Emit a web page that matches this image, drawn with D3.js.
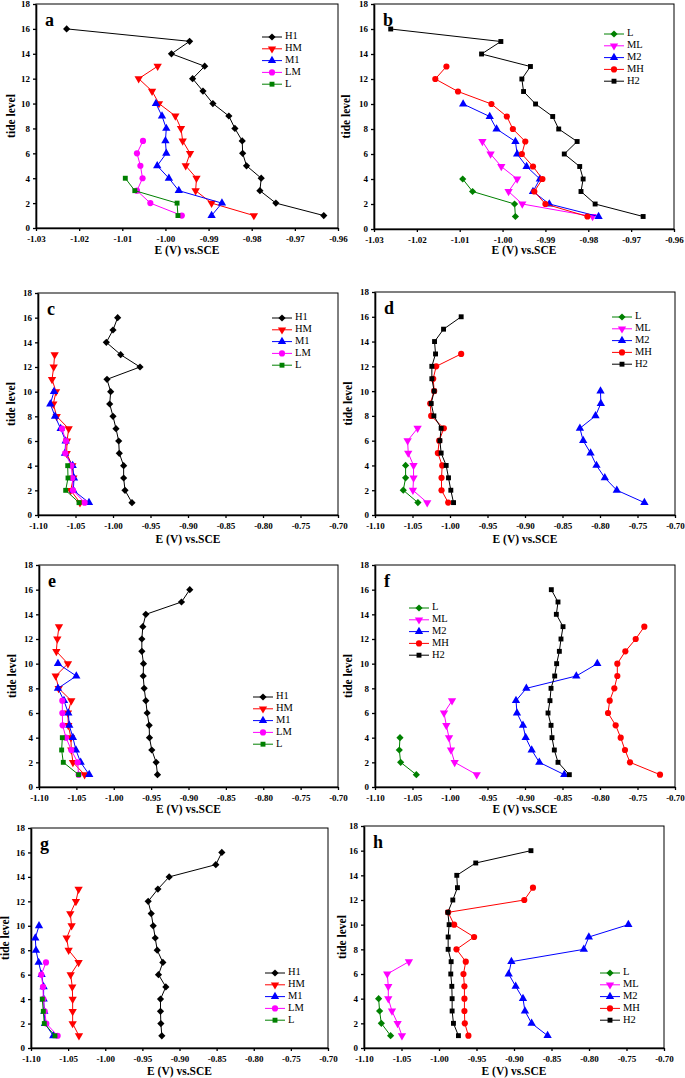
<!DOCTYPE html>
<html><head><meta charset="utf-8">
<script src="https://cdnjs.cloudflare.com/ajax/libs/d3/7.8.5/d3.min.js"></script>
<style>
body{margin:0;background:#fff;}
svg{display:block;font-family:"Liberation Serif","Times New Roman",serif;}
</style></head>
<body>
<svg id="chart" width="685" height="1078"></svg>
<script>
// ---------- DATA (index i -> tide level i+1) ----------
const tideTicks = [0,2,4,6,8,10,12,14,16,18];
const xTicksAB = [-1.03,-1.02,-1.01,-1.00,-0.99,-0.98,-0.97,-0.96];
const xTicksWide = [-1.10,-1.05,-1.00,-0.95,-0.90,-0.85,-0.80,-0.75,-0.70];
const seriesGroup1 = ["H1","HM","M1","LM","L"];
const seriesGroup2 = ["L","ML","M2","MH","H2"];

const a_H1 = [-0.9633,-0.9744,-0.9781,-0.9778,-0.9812,-0.9821,-0.9822,-0.9839,-0.9853,-0.9890,-0.9913,-0.9937,-0.9909,-0.9986,-0.9944,-1.0229];
const a_HM = [-0.9795,-0.9893,-0.9930,-0.9928,-0.9953,-0.9943,-0.9960,-0.9964,-0.9977,-1.0015,-1.0031,-1.0062,-1.0018];
const a_M1 = [-0.9893,-0.9869,-0.9969,-0.9992,-1.0019,-0.9998,-1.0000,-0.9998,-1.0008,-1.0022];
const a_LM = [-0.9962,-1.0035,-1.0066,-1.0053,-1.0058,-1.0066,-1.0052];
const a_L  = [-0.9971,-0.9973,-1.0071,-1.0093];

const b_L  = [-0.9970,-0.9972,-1.0070,-1.0093];
const b_ML = [-0.9790,-0.9954,-0.9986,-0.9966,-1.0003,-1.0028,-1.0047];
const b_M2 = [-0.9776,-0.9891,-0.9929,-0.9913,-0.9944,-0.9966,-0.9970,-1.0014,-1.0030,-1.0092];
const b_MH = [-0.9802,-0.9900,-0.9926,-0.9907,-0.9929,-0.9955,-0.9947,-0.9976,-0.9990,-1.0026,-1.0104,-1.0157,-1.0131];
const b_H2 = [-0.9672,-0.9784,-0.9817,-0.9812,-0.9820,-0.9856,-0.9826,-0.9869,-0.9883,-0.9923,-0.9951,-0.9955,-0.9935,-1.0049,-1.0004,-1.0261];

const c_H1 = [-0.9747,-0.9840,-0.9858,-0.9858,-0.9916,-0.9924,-0.9960,-1.0000,-1.0044,-1.0031,-1.0080,-0.9640,-0.9898,-1.0089,-1.0000,-0.9938];
const c_HM = [-1.0440,-1.0564,-1.0529,-1.0542,-1.0618,-1.0613,-1.0591,-1.0751,-1.0796,-1.0760,-1.0813,-1.0791,-1.0778];
const c_M1 = [-1.0320,-1.0529,-1.0520,-1.0538,-1.0640,-1.0631,-1.0698,-1.0773,-1.0836,-1.0787];
const c_LM = [-1.0378,-1.0533,-1.0542,-1.0556,-1.0636,-1.0627,-1.0680];
const c_L  = [-1.0453,-1.0631,-1.0600,-1.0604];

const d_L  = [-1.0428,-1.0623,-1.0592,-1.0592];
const d_ML = [-1.0304,-1.0494,-1.0486,-1.0486,-1.0557,-1.0565,-1.0432];
const d_M2 = [-0.7408,-0.7776,-0.7936,-0.8047,-0.8126,-0.8224,-0.8268,-0.8060,-0.7989,-0.7993];
const d_MH = [-1.0024,-1.0113,-1.0113,-1.0104,-1.0162,-1.0144,-1.0082,-1.0251,-1.0264,-1.0211,-1.0224,-1.0184,-0.9851];
const d_H2 = [-0.9953,-0.9989,-1.0020,-1.0051,-1.0118,-1.0135,-1.0118,-1.0215,-1.0251,-1.0211,-1.0242,-1.0242,-1.0193,-1.0206,-1.0086,-0.9851];

const e_H1 = [-0.9415,-0.9433,-0.9491,-0.9522,-0.9526,-0.9553,-0.9571,-0.9593,-0.9606,-0.9602,-0.9624,-0.9624,-0.9611,-0.9571,-0.9094,-0.8983];
const e_HM = [-1.0390,-1.0546,-1.0568,-1.0573,-1.0608,-1.0613,-1.0568,-1.0737,-1.0777,-1.0613,-1.0768,-1.0755,-1.0733];
const e_M1 = [-1.0328,-1.0443,-1.0506,-1.0546,-1.0595,-1.0608,-1.0666,-1.0746,-1.0501,-1.0746];
const e_LM = [-1.0470,-1.0483,-1.0568,-1.0639,-1.0684,-1.0688,-1.0688];
const e_L  = [-1.0470,-1.0675,-1.0697,-1.0688];

const f_L  = [-1.0449,-1.0658,-1.0676,-1.0667];
const f_ML = [-0.9644,-0.9938,-0.9987,-1.0013,-1.0049,-1.0080,-0.9973];
const f_M2 = [-0.8476,-0.8809,-0.8911,-0.8991,-0.9027,-0.9107,-0.9120,-0.8982,-0.8316,-0.8036];
const f_MH = [-0.7200,-0.7600,-0.7667,-0.7724,-0.7791,-0.7893,-0.7871,-0.7809,-0.7769,-0.7769,-0.7662,-0.7524,-0.7409];
const f_H2 = [-0.8409,-0.8560,-0.8609,-0.8640,-0.8653,-0.8693,-0.8667,-0.8653,-0.8604,-0.8578,-0.8542,-0.8520,-0.8493,-0.8582,-0.8560,-0.8649];

const g_H1 = [-0.9238,-0.9251,-0.9256,-0.9256,-0.9184,-0.9283,-0.9224,-0.9300,-0.9327,-0.9354,-0.9381,-0.9422,-0.9291,-0.9139,-0.8511,-0.8430];
const g_HM = [-1.0354,-1.0439,-1.0439,-1.0439,-1.0444,-1.0466,-1.0359,-1.0493,-1.0520,-1.0453,-1.0471,-1.0395,-1.0359];
const g_M1 = [-1.0700,-1.0812,-1.0821,-1.0830,-1.0830,-1.0857,-1.0897,-1.0933,-1.0942,-1.0892];
const g_LM = [-1.0641,-1.0794,-1.0816,-1.0834,-1.0839,-1.0861,-1.0798];
const g_L  = [-1.0677,-1.0821,-1.0834,-1.0848];

const h_L  = [-1.0645,-1.0769,-1.0792,-1.0805];
const h_ML = [-1.0494,-1.0552,-1.0627,-1.0676,-1.0676,-1.0690,-1.0401];
const h_M2 = [-0.8552,-0.8765,-0.8854,-0.8880,-0.8978,-0.9071,-0.9035,-0.8069,-0.8002,-0.7475];
const h_MH = [-0.9608,-0.9656,-0.9661,-0.9661,-0.9661,-0.9674,-0.9643,-0.9767,-0.9532,-0.9798,-0.9878,-0.8863,-0.8747];
const h_H2 = [-0.9741,-0.9807,-0.9825,-0.9825,-0.9829,-0.9843,-0.9838,-0.9878,-0.9878,-0.9865,-0.9882,-0.9816,-0.9754,-0.9763,-0.9510,-0.8774];

// ---------- STYLE ----------
const styles = {
  H1:{color:"#000000", sym:"diamond"},
  HM:{color:"#ff0000", sym:"down"},
  M1:{color:"#0000ff", sym:"up"},
  LM:{color:"#ff00ff", sym:"circle"},
  L1:{color:"#008000", sym:"square"},
  L2:{color:"#008000", sym:"diamond"},
  ML:{color:"#ff00ff", sym:"down"},
  M2:{color:"#0000ff", sym:"up"},
  MH:{color:"#ff0000", sym:"circle"},
  H2:{color:"#000000", sym:"square"}
};

const panels = [
  {id:"a", box:[36,338,4,228], ticks:xTicksAB, fmt:2, names:seriesGroup1, data:[a_H1,a_HM,a_M1,a_LM,a_L], grp:1, leg:[262,37], ylab:12, xlabY:251},
  {id:"b", box:[374,674,4,229], ticks:xTicksAB, fmt:2, names:seriesGroup2, data:[b_L,b_ML,b_M2,b_MH,b_H2], grp:2, leg:[604,34], ylab:347, xlabY:251},
  {id:"c", box:[38,338,293,515], ticks:xTicksWide, fmt:2, names:seriesGroup1, data:[c_H1,c_HM,c_M1,c_LM,c_L], grp:1, leg:[272,318], ylab:12, xlabY:540},
  {id:"d", box:[375,675,292,515], ticks:xTicksWide, fmt:2, names:seriesGroup2, data:[d_L,d_ML,d_M2,d_MH,d_H2], grp:2, leg:[612,317], ylab:349, xlabY:540},
  {id:"e", box:[39,338,565,787], ticks:xTicksWide, fmt:2, names:seriesGroup1, data:[e_H1,e_HM,e_M1,e_LM,e_L], grp:1, leg:[253,697], ylab:13, xlabY:810},
  {id:"f", box:[375,675,565,787], ticks:xTicksWide, fmt:2, names:seriesGroup2, data:[f_L,f_ML,f_M2,f_MH,f_H2], grp:2, leg:[409,608], ylab:349, xlabY:810},
  {id:"g", box:[31,328,828,1048], ticks:xTicksWide, fmt:2, names:seriesGroup1, data:[g_H1,g_HM,g_M1,g_LM,g_L], grp:1, leg:[265,973], ylab:6.5, xlabY:1072},
  {id:"h", box:[364,664,826,1048], ticks:xTicksWide, fmt:2, names:seriesGroup2, data:[h_L,h_ML,h_M2,h_MH,h_H2], grp:2, leg:[600,973], ylab:343, xlabY:1072}
];

const svg = d3.select("#chart");

function symbolPath(sym){
  if(sym==="diamond") return "M0,-3.6L3.6,0L0,3.6L-3.6,0Z";
  if(sym==="up") return d3.symbol().type(d3.symbolTriangle).size(30)();
  if(sym==="down") return d3.symbol().type(d3.symbolTriangle).size(30)();
  if(sym==="circle") return d3.symbol().type(d3.symbolCircle).size(30)();
  return d3.symbol().type(d3.symbolSquare).size(24)();
}
function styleKey(name, grp){ return name==="L" ? (grp===1?"L1":"L2") : name; }

panels.forEach(p=>{
  const [x0,x1,y0,y1] = p.box;
  const xs = d3.scaleLinear().domain([p.ticks[0], p.ticks[p.ticks.length-1]]).range([x0,x1]);
  const ys = d3.scaleLinear().domain([0,18]).range([y1,y0]);
  const g = svg.append("g");

  // frame
  g.append("rect").attr("x",x0).attr("y",y0).attr("width",x1-x0).attr("height",y1-y0)
    .attr("fill","none").attr("stroke","#000").attr("stroke-width",1);

  const xAxis = d3.axisBottom(xs).tickValues(p.ticks).tickSize(3).tickSizeOuter(0)
    .tickFormat(d=>d.toFixed(p.fmt));
  const yAxis = d3.axisLeft(ys).tickValues(tideTicks).tickSize(3).tickSizeOuter(0);
  const ax = g.append("g").attr("transform",`translate(0,${y1})`).call(xAxis);
  const ay = g.append("g").attr("transform",`translate(${x0},0)`).call(yAxis);
  [ax,ay].forEach(a=>{
    a.select(".domain").attr("stroke-width",1.6);
    a.selectAll(".tick line").attr("stroke-width",1.3);
    a.selectAll("text").attr("font-family","Liberation Serif").attr("font-weight","bold")
      .attr("font-size",9).attr("fill","#000");
  });
  ax.selectAll("text").attr("dy","0.9em");

  // titles
  g.append("text").attr("x",(x0+x1)/2).attr("y",p.xlabY).attr("text-anchor","middle")
    .attr("dominant-baseline","middle").attr("font-weight","bold").attr("font-size",11.5)
    .text("E (V) vs.SCE");
  g.append("text").attr("transform",`translate(${p.ylab},${(y0+y1)/2}) rotate(-90)`)
    .attr("text-anchor","middle").attr("dominant-baseline","middle")
    .attr("font-weight","bold").attr("font-size",11.5).text("tide level");
  g.append("text").attr("x",x0+9).attr("y",y0+22).attr("font-weight","bold")
    .attr("font-size",18).text(p.id);

  // series
  const line = d3.line().x(d=>xs(d.v)).y(d=>ys(d.lvl));
  p.names.forEach((name,i)=>{
    const st = styles[styleKey(name,p.grp)];
    const pts = p.data[i].map((v,k)=>({v:v,lvl:k+1}));
    g.append("path").datum(pts).attr("d",line).attr("fill","none")
      .attr("stroke",st.color).attr("stroke-width",1);
    g.selectAll(null).data(pts).enter().append("path")
      .attr("d",symbolPath(st.sym))
      .attr("transform",d=>`translate(${xs(d.v)},${ys(d.lvl)})${st.sym==="down"?" rotate(180)":""}`)
      .attr("fill",st.color);
  });

  // legend
  const [lx,ly] = p.leg;
  p.names.forEach((name,i)=>{
    const st = styles[styleKey(name,p.grp)];
    const yy = ly + i*11.8;
    g.append("line").attr("x1",lx).attr("x2",lx+20).attr("y1",yy).attr("y2",yy)
      .attr("stroke",st.color).attr("stroke-width",1);
    g.append("path").attr("d",symbolPath(st.sym))
      .attr("transform",`translate(${lx+10},${yy})${st.sym==="down"?" rotate(180)":""}`)
      .attr("fill",st.color);
    g.append("text").attr("x",lx+23).attr("y",yy).attr("dominant-baseline","middle")
      .attr("font-size",10.5).attr("fill","#000").text(name);
  });
});
</script>
</body></html>
